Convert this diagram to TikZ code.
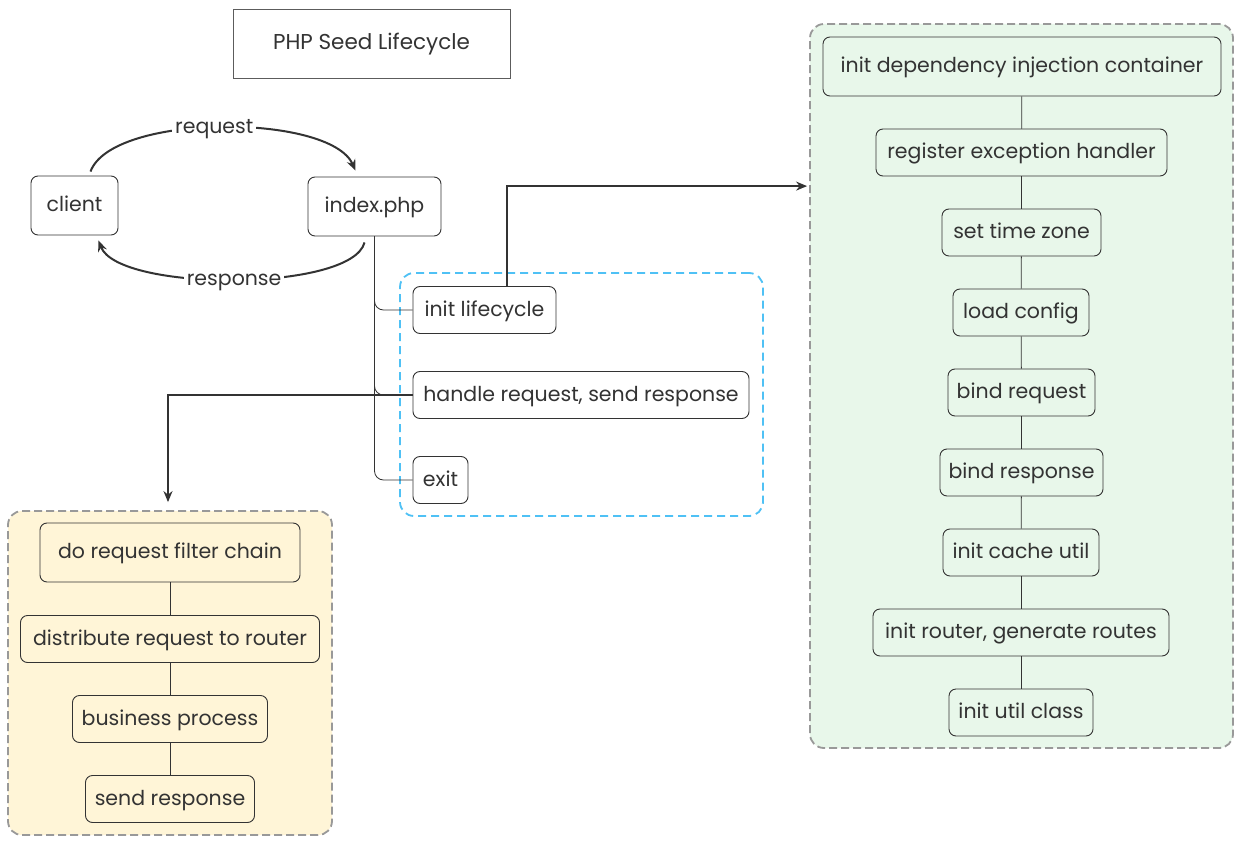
\documentclass[tikz,border=0pt]{standalone}
\usepackage{fontspec}
\setmainfont{Poppins}
\usetikzlibrary{calc,arrows.meta}
\definecolor{txt}{HTML}{333333}
\definecolor{dashgray}{HTML}{999999}
\definecolor{dashblue}{HTML}{4FC1F5}
\definecolor{yfill}{HTML}{FFF5D7}
\definecolor{gfill}{HTML}{E8F7EA}
\begin{document}
\begin{tikzpicture}[x=1pt,y=-1pt,
  box/.style={draw=txt, line width=0.9pt, rounded corners=7pt, text=txt,
    font=\fontsize{20.5}{23}\selectfont, inner sep=0pt, minimum height=47pt,
    text height=15pt, text depth=3pt},
  tallbox/.style={box, minimum height=59pt},
  group/.style={draw=dashgray, line width=1.8pt, dash pattern=on 8pt off 4pt,
    rounded corners=14pt, inner sep=0pt},
  link/.style={draw=txt, line width=0.8pt, rounded corners=9pt},
  flow/.style={draw=txt, line width=1.8pt, -{Stealth[length=11pt,width=9pt]}},
  curve/.style={draw=txt, line width=2pt, -{Stealth[length=11pt,width=9pt]}},
  lbl/.style={fill=white, text=txt, font=\fontsize{20.5}{23}\selectfont, inner sep=3pt,
    text height=15pt, text depth=3pt}]
\useasboundingbox (0,0) rectangle (1243,843);
\fill[white] (0,0) rectangle (1243,843);

% group frames
\node[group, fill=gfill, minimum width=423pt, minimum height=724pt] (gbox) at (1021.5,386) {};
\node[group, fill=yfill, minimum width=324pt, minimum height=324pt] (ybox) at (170,673) {};
\node[draw=dashblue, line width=1.8pt, dash pattern=on 8pt off 5pt, rounded corners=14pt,
  minimum width=363pt, minimum height=243pt, inner sep=0pt] (bbox) at (581.5,394.5) {};

% title
\node[draw=txt!80, line width=0.8pt, text=txt, font=\fontsize{21.5}{24}\selectfont,
  minimum width=277pt, minimum height=69pt, inner sep=0pt, text height=16pt, text depth=3pt]
  (title) at (371.5,43.5) {PHP Seed Lifecycle};

% client / index
\node[tallbox, minimum width=87pt] (cl) at (74.5,205.5) {client};
\node[tallbox, minimum width=133pt] (idx) at (374.5,206.5) {index.php};

% lifecycle steps
\node[box, minimum width=143pt] (lc) at (484.5,310) {init lifecycle};
\node[box, minimum width=336pt] (hr) at (581,395) {handle request, send response};
\node[box, minimum width=55pt] (ex) at (440.5,480) {exit};

% yellow group
\node[tallbox, minimum width=260pt] (y1) at (170,552.5) {do request filter chain};
\node[box, minimum width=299pt] (y2) at (170,639) {distribute request to router};
\node[box, minimum width=195pt] (y3) at (170,719) {business process};
\node[box, minimum width=169pt] (y4) at (170,799) {send response};

% green group
\node[tallbox, minimum width=398pt] (g1) at (1022,66.5) {init dependency injection container};
\node[box, minimum width=291pt] (g2) at (1021.5,152.5) {register exception handler};
\node[box, minimum width=159pt] (g3) at (1021.5,232.5) {set time zone};
\node[box, minimum width=136pt] (g4) at (1021,312.5) {load config};
\node[box, minimum width=147pt] (g5) at (1021.5,392.5) {bind request};
\node[box, minimum width=163pt] (g6) at (1021.5,472.5) {bind response};
\node[box, minimum width=156pt] (g7) at (1021,552.5) {init cache util};
\node[box, minimum width=296pt] (g8) at (1021,632.5) {init router, generate routes};
\node[box, minimum width=144pt] (g9) at (1021,712.5) {init util class};

% chains
\foreach \a/\b in {g1/g2,g2/g3,g3/g4,g4/g5,g5/g6,g6/g7,g7/g8,g8/g9,y1/y2,y2/y3,y3/y4}
  \draw[link] (\a) -- (\b);

% tree from index.php
\draw[link] (idx.south) |- (lc.west);
\draw[link] (idx.south) |- (hr.west);
\draw[link] (idx.south) |- (ex.west);

% request / response arcs
\draw[curve] ($(cl.north)+(16,-4)$) .. controls (112,113) and (330,113) .. ($(idx.north)+(-19,-6)$)
  node[lbl, pos=0.48] (rq) {request};
\draw[curve] ($(idx.south)+(-10,6)$) .. controls (352,292) and (118,292) .. ($(cl.south)+(24,5)$)
  node[lbl, pos=0.5] (rs) {response};

% flow arrows
\draw[flow] ($(lc.north)+(22.5,0)$) |- ($(gbox.north west)+(-2,163)$);
\draw[flow] (hr.west) -| ($(ybox.north)+(-2,-8)$);
\end{tikzpicture}
\end{document}
